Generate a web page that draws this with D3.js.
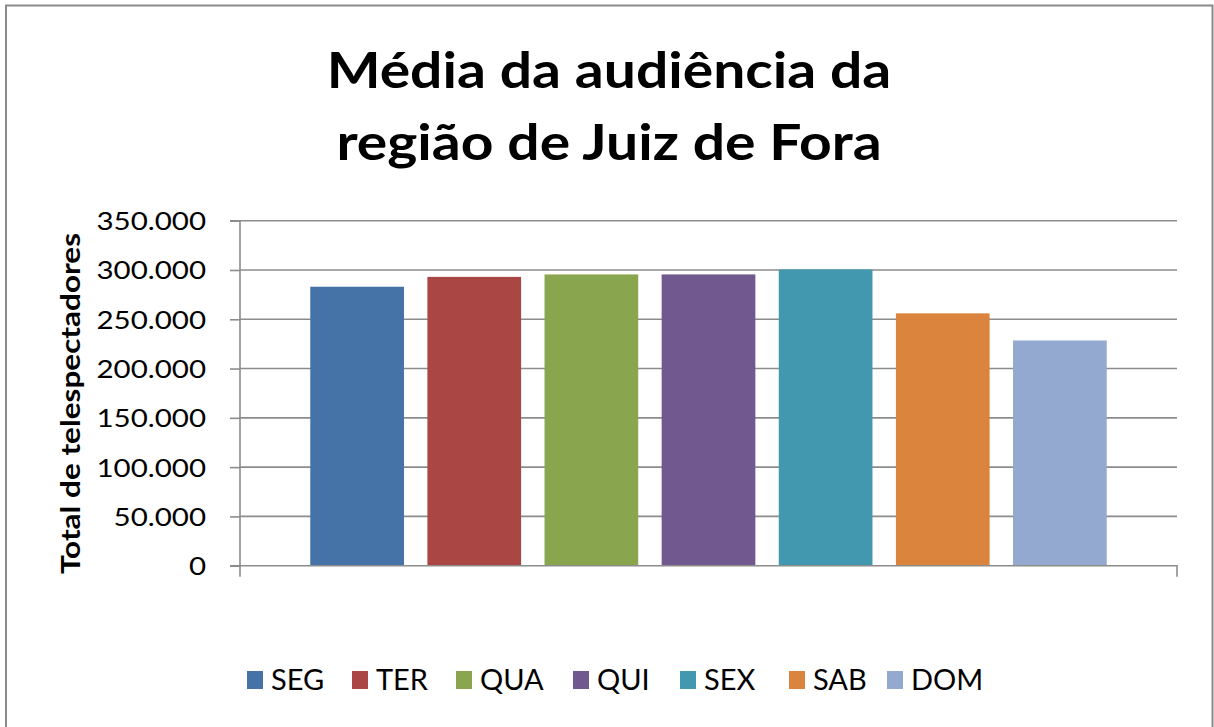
<!DOCTYPE html>
<html><head><meta charset="utf-8">
<script src="https://cdn.jsdelivr.net/npm/d3@7"></script>
<style>html,body{margin:0;padding:0;background:#fff;}svg{display:block;}</style>
</head><body>
<svg id="c" width="1214" height="727"></svg>
<script>
const days = ["SEG","TER","QUA","QUI","SEX","SAB","DOM"];
const values = [283000, 293000, 295500, 295500, 300500, 256000, 228500];
const colors = ["#4572A7","#AA4643","#89A54E","#71588F","#4198AF","#DB843D","#93A9CF"];
const yTicks = [0,50000,100000,150000,200000,250000,300000,350000];
const titleLines = ["Média da audiência da","região de Juiz de Fora"];
const yLabel = "Total de telespectadores";

const svg = d3.select("#c");
const font = "Lato, 'Open Sans', sans-serif";
const pLeft = 240, pRight = 1177, pTop = 220.7, pBottom = 565.7;

// frame
svg.append("path").attr("d","M6,740 V5.5 H1212.5 V740").attr("fill","none").attr("stroke","#8a8a8a").attr("stroke-width",2);

const y = d3.scaleLinear().domain([0,350000]).range([pBottom, pTop]);
const x = d3.scaleBand().domain(days).range([pLeft, pRight]).paddingInner(0.2).paddingOuter(0.6);

// gridlines
svg.append("g").selectAll("line").data(yTicks.slice(1)).join("line")
  .attr("x1", pLeft).attr("x2", pRight).attr("y1", d=>y(d)).attr("y2", d=>y(d))
  .attr("stroke","#8c8c8c").attr("stroke-width",1.6);

// bars
svg.append("g").selectAll("rect").data(days).join("rect")
  .attr("x", d=>x(d)).attr("width", x.bandwidth())
  .attr("y", (d,i)=>y(values[i])).attr("height", (d,i)=>y(0)-y(values[i]))
  .attr("fill", (d,i)=>colors[i]);

// y axis
const fmt = v => v===0 ? "0" : d3.format(",")(v).replace(/,/g,".");
const sx = 1.18;
const yAxis = d3.axisLeft(y).tickValues(yTicks).tickSize(10).tickPadding(12).tickFormat(fmt);
const gy = svg.append("g").attr("transform",`translate(${pLeft},0)`).call(yAxis);
gy.select(".domain").attr("stroke","#8c8c8c").attr("stroke-width",1.6).attr("d",`M-10,${pTop}H0V${pBottom+11}`);
gy.selectAll(".tick line").attr("stroke","#8c8c8c").attr("stroke-width",1.6);
gy.selectAll(".tick text").attr("font-family",font).attr("font-size",25).attr("fill","#000")
  .attr("x", -34/sx).attr("dy","0.36em").attr("transform",`scale(${sx},1)`);

// x axis
svg.append("path").attr("d",`M${pLeft-10},${pBottom}H${pRight}V${pBottom+11}`)
  .attr("fill","none").attr("stroke","#8c8c8c").attr("stroke-width",1.6);

// title
const tsx = 1.14;
svg.append("text").attr("transform",`translate(609,0) scale(${tsx},1)`)
  .attr("font-family",font).attr("font-weight","bold")
  .attr("font-size",50).attr("text-anchor","middle").attr("fill","#000")
  .selectAll("tspan").data(titleLines).join("tspan")
  .attr("x",0).attr("y",(d,i)=>88+i*72).text(d=>d);

// y label
svg.append("text").attr("transform","translate(80,403.5) rotate(-90)")
  .attr("text-anchor","middle").attr("font-family",font).attr("font-weight","bold")
  .attr("font-size",27).attr("fill","#000")
  .attr("textLength",341).attr("lengthAdjust","spacingAndGlyphs").text(yLabel);

// legend
const legX = [247,352,456,573,680,789,887];
const lg = svg.append("g").selectAll("g").data(days).join("g")
  .attr("transform",(d,i)=>`translate(${legX[i]},671)`);
lg.append("rect").attr("width",16).attr("height",18).attr("fill",(d,i)=>colors[i]);
lg.append("text").attr("x",24).attr("y",19).attr("font-family",font).attr("font-size",29)
  .attr("fill","#000").text(d=>d);
</script>
</body></html>
